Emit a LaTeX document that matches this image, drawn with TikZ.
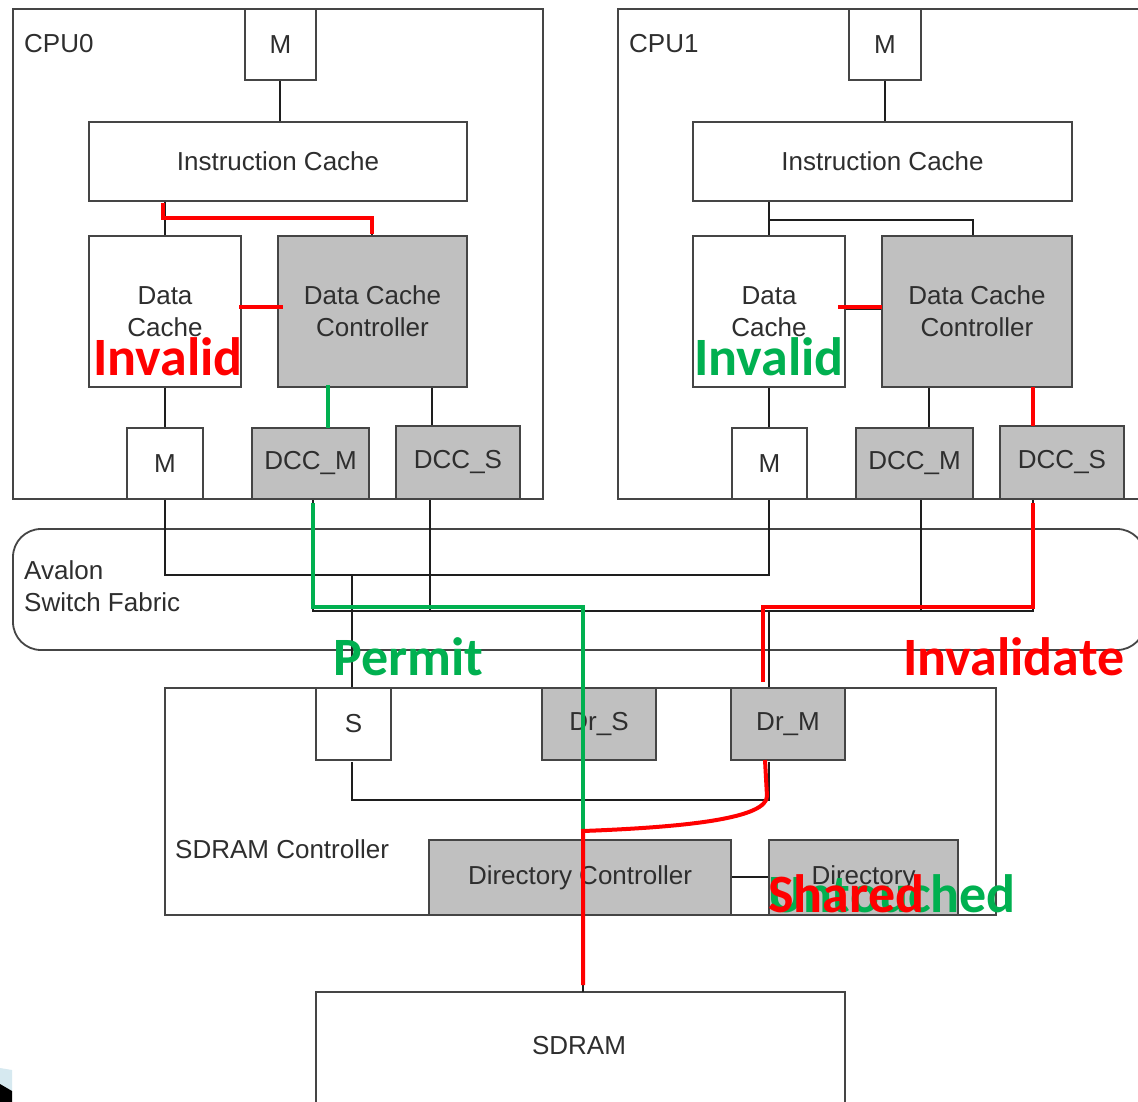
\documentclass[tikz,border=0pt]{standalone}
\usepackage{fontspec}
\setmainfont{Liberation Sans}
\newfontfamily\notefont{Carlito}
\usetikzlibrary{calc}

\definecolor{boxline}{HTML}{454545}
\definecolor{wirec}{HTML}{1E1E1E}
\definecolor{shade}{HTML}{C0C0C0}
\definecolor{txt}{HTML}{2E2E2E}
\definecolor{sigred}{HTML}{FF0000}
\definecolor{siggreen}{HTML}{00B050}
\definecolor{decoblue}{HTML}{D6E9F0}

\tikzset{
  blk/.style={draw=boxline, line width=1.8pt, fill=white, inner sep=0pt,
    font=\fontsize{26}{32}\selectfont, text=txt, align=center},
  gblk/.style={blk, fill=shade},
  lbl/.style={inner sep=0pt, font=\fontsize{26}{32}\selectfont, text=txt, align=left},
  wire/.style={draw=wirec, line width=1.5pt},
  redp/.style={draw=sigred, line width=4pt},
  grnp/.style={draw=siggreen, line width=4pt},
  note/.style={font=\notefont\bfseries\fontsize{54}{54}\selectfont, inner sep=0pt, anchor=base west},
}

\begin{document}
\begin{tikzpicture}[x=1pt, y=-1pt]
\useasboundingbox (0,0) rectangle (1138,1102);
\clip (0,0) rectangle (1138,1102);
\fill[white] (0,0) rectangle (1138,1102);

% ---------- outer frames ----------
\node[blk, minimum width=530pt, minimum height=490pt] (cpu0) at (278,254) {};
\node[blk, minimum width=542pt, minimum height=490pt] (cpu1) at (889,254) {};
\node[lbl, anchor=west] (cpu0lbl) at (24,44) {CPU0};
\node[lbl, anchor=west] (cpu1lbl) at (629,44) {CPU1};

\node[blk, rounded corners=28pt, minimum width=1132pt, minimum height=121pt] (fabric) at (579,589.5) {};
\node[lbl, anchor=north west] (fablbl) at (24,560) {Avalon\\Switch Fabric};

\node[blk, minimum width=831pt, minimum height=227pt] (sdc) at (580.5,801.5) {};
\node[lbl, anchor=west] (sdclbl) at (175,849) {SDRAM Controller};

\node[blk, minimum width=529pt, minimum height=160pt] (sdram) at (580.5,1072) {};
\node[lbl] (sdramlbl) at (579,1046) {SDRAM};

% ---------- coordinates used by the buses ----------
\coordinate (busA0) at (165,575);
\coordinate (busA1) at (769,575);
\coordinate (busB0) at (313,611);
\coordinate (busB1) at (1033,611);

% ---------- CPU0 wiring ----------
\draw[wire] (280,80) -- (280,122);
\draw[wire] (165,201) -- (165,236);
\draw[wire] (165,219) -- (372,219) -- (372,236);
\draw[wire] (241,308) -- (278,308);
\draw[wire] (165,387) -- (165,428);
\draw[wire] (328,387) -- (328,428);
\draw[wire] (432,387) -- (432,426);

% ---------- CPU1 wiring ----------
\draw[wire] (885,80) -- (885,122);
\draw[wire] (769,201) -- (769,236);
\draw[wire] (769,220) -- (973,220) -- (973,236);
\draw[wire] (845,309) -- (882,309);
\draw[wire] (769,387) -- (769,428);
\draw[wire] (929,387) -- (929,428);
\draw[wire] (1033,387) -- (1033,426);

% ---------- switch fabric buses ----------
\draw[wire] (165,499) -- (busA0) -- (busA1) -- (769,499);
\draw[wire] (352,575) -- (352,688);
\draw[wire] (313,499) -- (busB0) -- (busB1) -- (1033,499);
\draw[wire] (430,499) -- (430,611);
\draw[wire] (921,499) -- (921,611);
\draw[wire] (583,611) -- (583,688);
\draw[wire] (769,611) -- (769,688);

% ---------- SDRAM controller wiring ----------
\draw[wire] (352,762) -- (352,800) -- (769,800) -- (769,762);
\draw[wire] (583,760) -- (583,840);
\draw[wire] (731,877) -- (769,877);
\draw[wire] (583,915) -- (583,992);

% ---------- CPU0 blocks ----------
\node[blk, minimum width=71pt, minimum height=71pt] (m0) at (280.5,44.5) {M};
\node[blk, minimum width=378pt, minimum height=79pt] (ic0) at (278,161.5) {Instruction Cache};
\node[blk, minimum width=152pt, minimum height=151pt] (dc0) at (165,311.5) {Data\\Cache};
\node[gblk, minimum width=189pt, minimum height=151pt] (dcc0) at (372.5,311.5) {Data Cache\\Controller};
\node[blk, minimum width=76pt, minimum height=71pt] (mb0) at (165,463.5) {M};
\node[gblk, minimum width=117pt, minimum height=71pt] (dccm0) at (310.5,463.5) {DCC\_M};
\node[gblk, minimum width=124pt, minimum height=73pt] (dccs0) at (458,462.5) {DCC\_S};

% ---------- CPU1 blocks ----------
\node[blk, minimum width=72pt, minimum height=71pt] (m1) at (885,44.5) {M};
\node[blk, minimum width=379pt, minimum height=79pt] (ic1) at (882.5,161.5) {Instruction Cache};
\node[blk, minimum width=152pt, minimum height=151pt] (dc1) at (769,311.5) {Data\\Cache};
\node[gblk, minimum width=190pt, minimum height=151pt] (dcc1) at (977,311.5) {Data Cache\\Controller};
\node[blk, minimum width=75pt, minimum height=71pt] (mb1) at (769.5,463.5) {M};
\node[gblk, minimum width=117pt, minimum height=71pt] (dccm1) at (914.5,463.5) {DCC\_M};
\node[gblk, minimum width=124pt, minimum height=73pt] (dccs1) at (1062,462.5) {DCC\_S};

% ---------- SDRAM controller blocks ----------
\node[blk, minimum width=75pt, minimum height=72pt] (s) at (353.5,724) {S};
\node[gblk, minimum width=114pt, minimum height=72pt] (drs) at (599,724) {Dr\_S};
\node[gblk, minimum width=114pt, minimum height=72pt] (drm) at (788,724) {Dr\_M};
\node[gblk, minimum width=302pt, minimum height=75pt] (dirc) at (580,877.5) {Directory Controller};
\node[gblk, minimum width=189pt, minimum height=75pt] (dir) at (863.5,877.5) {Directory};

% the directory controller line runs over its box
\draw[wire] (583,840) -- (583,915);

% ---------- highlighted transaction paths ----------
\coordinate (meet) at (583,831);
\draw[redp] (163,203) -- (163,218) -- (372,218) -- (372,234);
\draw[redp] (239,307) -- (283,307);
\draw[redp] (838,307) -- (882,307);
\draw[redp] (1033,387) -- (1033,426);
\draw[redp] (1033,503) -- (1033,607) -- (763,607) -- (763,682);
\draw[grnp] (328,385) -- (328,428);
\draw[grnp] (313,503) -- (313,607) -- (583,607) -- (meet);
\draw[redp] (583,985) -- (meet) .. controls (690,827) and (767,818) .. (767,796) -- (765,760);

% ---------- state annotations ----------
\node[note, text=sigred] (st0) at (93,375) {Invalid};
\node[note, text=siggreen] (st1) at (694,375) {Invalid};
\node[note, text=siggreen] (permit) at (333,675) {Permit};
\node[note, text=sigred] (inval) at (903,675) {Invalidate};
\node[note, text=siggreen] (dirold) at (768,912) {Untouched};
\node[note, text=sigred] (dirnew) at (768,912) {Shared};

% ---------- corner ornament ----------
\fill[decoblue] (0,1068) -- (12,1070) -- (12,1091) -- (0,1084) -- cycle;
\fill[black] (0,1084) -- (12,1091) -- (12,1102) -- (0,1102) -- cycle;
\end{tikzpicture}
\end{document}
